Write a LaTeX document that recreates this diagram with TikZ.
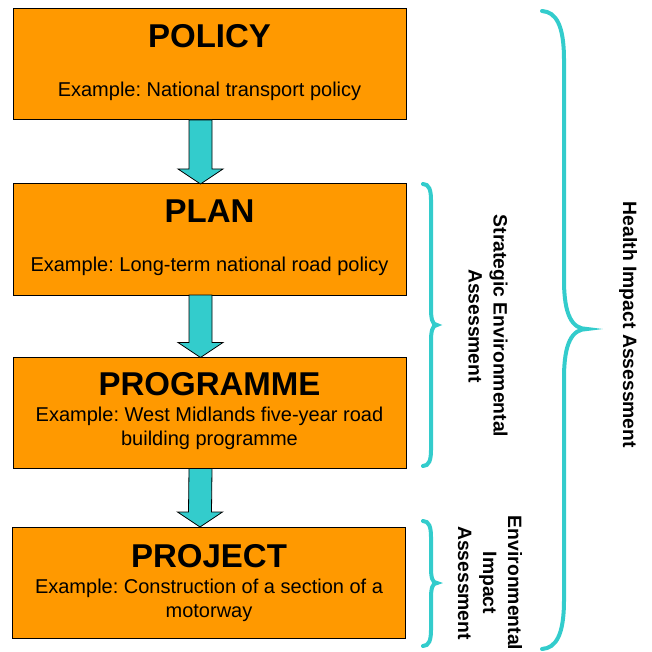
\documentclass[tikz,border=0pt]{standalone}
\usepackage{fontspec}
\setmainfont{Liberation Sans}
\usetikzlibrary{calc}
\frenchspacing
\definecolor{stageorange}{RGB}{255,153,0}
\definecolor{assessteal}{RGB}{51,204,204}
\tikzset{
  stagebox/.style={draw=black, line width=0.75pt, fill=stageorange, rectangle,
    inner sep=0pt, outer sep=0pt, minimum width=294.75pt, minimum height=83.25pt},
  stagetitle/.style={anchor=base, inner sep=0pt, font=\fontsize{24.75pt}{29pt}\selectfont\bfseries},
  stagetext/.style={anchor=base, inner sep=0pt, font=\fontsize{15pt}{18pt}\selectfont},
  stagearrow/.style={draw=black, line width=0.6pt, fill=assessteal, line join=miter},
  assessbrace/.style={draw=assessteal, line width=3pt, line cap=round},
  assesslabel/.style={rotate=-90, align=center, inner sep=0pt,
    font=\fontsize{14.5pt}{18.75pt}\selectfont\bfseries}
}
% block arrow from the bottom of one box to the top of the next
\newcommand{\stagestep}[2]{%
  \draw [stagearrow] ($(#1.south)+(-20.5,0)$) -- ($(#2.north)+(-20.5,-15)$) -- ($(#2.north)+(-31.5,-15)$)
    -- ($(#2.north)+(-9,0)$) -- ($(#2.north)+(13.5,-15)$) -- ($(#2.north)+(2.5,-15)$)
    -- ($(#1.south)+(2.5,0)$) -- cycle ;}
\begin{document}
\begin{tikzpicture}[x=0.75pt,y=0.75pt,yscale=-1,xscale=1]
\useasboundingbox (0,0) rectangle (652,652);

%Shape: Rectangle [policy]
\node [stagebox] (policy) at (209.5,64.5) {};
%Shape: Rectangle [plan]
\node [stagebox] (plan) at (209.5,239.5) {};
%Shape: Rectangle [programme]
\node [stagebox] (programme) at (209.5,413) {};
%Shape: Rectangle [project]
\node [stagebox] (project) at (209,582.5) {};

%Block Arrows
\stagestep{policy}{plan}
\stagestep{plan}{programme}
\stagestep{programme}{project}

%Shape: Brace [sea]
\draw [assessbrace] (423,184) .. controls (429,184) and (431,190) .. (431,200) -- (431,308)
  .. controls (431,318) and (432,325) .. (437,325) .. controls (432,325) and (431,332) .. (431,342)
  -- (431,450) .. controls (431,460) and (429,466) .. (423,466) ;
%Shape: Brace [eia]
\draw [assessbrace] (423,521) .. controls (429,521) and (431,527) .. (431,537) -- (431,567)
  .. controls (431,577) and (432,583) .. (437,583) .. controls (432,583) and (431,589) .. (431,599)
  -- (431,630) .. controls (431,640) and (429,646) .. (423,646) ;
%Shape: Brace [hia]
\draw [assessbrace] (542,11) .. controls (556,12) and (564,25) .. (564,60) -- (564,280)
  .. controls (564,315) and (572,329) .. (587,329) .. controls (572,329) and (564,343) .. (564,378)
  -- (564,600) .. controls (564,635) and (556,648) .. (542,649) ;

% Text Node
\node [stagetitle] (policytitle) at (209.5,48) {POLICY};
% Text Node
\node [stagetext] (policyexample) at (209.5,97) {Example: National transport policy};
% Text Node
\node [stagetitle] (plantitle) at (209.5,223) {PLAN};
% Text Node
\node [stagetext] (planexample) at (209.5,271) {Example: Long-term national road policy};
% Text Node
\node [stagetitle] (programmetitle) at (209.5,395) {PROGRAMME};
% Text Node
\node [stagetext] (programmeexample) at (209.5,421) {Example: West Midlands five-year road};
\node [stagetext] (programmeexampleb) at (209.5,445) {building programme};
% Text Node
\node [stagetitle] (projecttitle) at (209,567) {PROJECT};
% Text Node
\node [stagetext] (projectexample) at (209,593) {Example: Construction of a section of a};
\node [stagetext] (projectexampleb) at (209,617) {motorway};

% Text Node
\node [assesslabel] (sealabel) at (488,326) {Strategic Environmental\\Assessment};
% Text Node
\node [assesslabel] (eialabel) at (490,583) {Environmental\\Impact\\Assessment};
% Text Node
\node [assesslabel] (hialabel) at (628,325) {Health Impact Assessment};

\end{tikzpicture}
\end{document}
